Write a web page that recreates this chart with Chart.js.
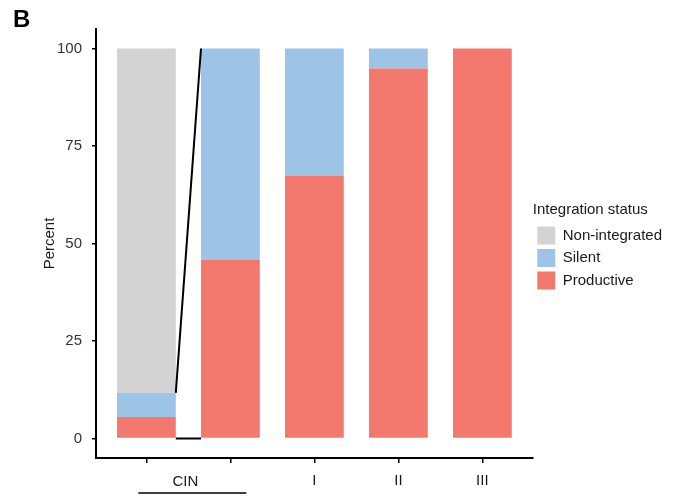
<!DOCTYPE html>
<html>
<head>
<meta charset="utf-8">
<script src="https://cdn.jsdelivr.net/npm/chart.js@4.4.0/dist/chart.umd.min.js"></script>
<style>
  html, body { margin: 0; padding: 0; background: #fff; }
</style>
</head>
<body>
<canvas id="chart" width="678" height="496"></canvas>
<script>
// chart values
const categories = ['CIN (all)', 'CIN (integrated)', 'I', 'II', 'III'];
const tickLabels = ['', '', 'I', 'II', 'III'];
const groupLabel = 'CIN';
const productive = [5.5, 45.9, 67.4, 94.9, 100];
const silent = [6.2, 54.1, 32.6, 5.1, 0];
const nonIntegrated = [88.3, 0, 0, 0, 0];
const yTicks = [0, 25, 50, 75, 100];
const panelLetter = 'B';

Chart.defaults.font.family = '"Liberation Sans", Arial, sans-serif';
Chart.defaults.color = '#4d4d4d';

function toPoints(arr){
    return arr.map((v, i) => ({ x: i, y: v }));
}

// zoom connector, CIN group label and panel letter
const extras = {
    id: 'extras',
    afterDatasetsDraw(chart){
        const ctx = chart.ctx;
        const y = chart.scales.y;
        const b0 = chart.getDatasetMeta(0).data[0];
        const b1 = chart.getDatasetMeta(0).data[1];
        const r0 = b0.x + b0.width / 2;
        const l1 = b1.x - b1.width / 2;
        ctx.save();
        ctx.strokeStyle = '#000';
        ctx.lineWidth = 2;
        ctx.beginPath();
        ctx.moveTo(r0, y.getPixelForValue(productive[0] + silent[0]));
        ctx.lineTo(l1, y.getPixelForValue(100));
        ctx.moveTo(r0, y.getPixelForValue(0));
        ctx.lineTo(l1, y.getPixelForValue(0));
        ctx.stroke();
        ctx.restore();
    },
    afterDraw(chart){
        const ctx = chart.ctx;
        const x = chart.scales.x;
        const mid = (x.getPixelForValue(0) + x.getPixelForValue(1)) / 2;
        ctx.save();
        ctx.fillStyle = '#1a1a1a';
        ctx.font = '15px "Liberation Sans", Arial, sans-serif';
        ctx.textAlign = 'center';
        ctx.textBaseline = 'middle';
        ctx.fillText(groupLabel, mid - 3, 482);
        ctx.strokeStyle = '#000';
        ctx.lineWidth = 1.5;
        ctx.beginPath();
        ctx.moveTo(mid - 50, 493);
        ctx.lineTo(mid + 58, 493);
        ctx.stroke();
        ctx.font = 'bold 24px "Liberation Sans", Arial, sans-serif';
        ctx.textAlign = 'left';
        ctx.textBaseline = 'alphabetic';
        ctx.fillStyle = '#000';
        ctx.fillText(panelLetter, 13, 27);
        ctx.restore();
    }
};

new Chart(document.getElementById('chart'), {
    type: 'bar',
    data: {
        datasets: [
            { label: 'Productive', data: toPoints(productive), backgroundColor: '#f3796e' },
            { label: 'Silent', data: toPoints(silent), backgroundColor: '#9dc3e6' },
            { label: 'Non-integrated', data: toPoints(nonIntegrated), backgroundColor: '#d3d3d3' }
        ]
    },
    options: {
        responsive: false,
        animation: false,
        barPercentage: 0.7,
        categoryPercentage: 1.0,
        layout: { padding: { top: 29, right: 6, bottom: 0, left: 0 } },
        plugins: {
            tooltip: { enabled: false },
            legend: {
                position: 'right',
                align: 'start',
                reverse: true,
                title: {
                    display: true,
                    text: 'Integration status',
                    position: 'start',
                    color: '#1a1a1a',
                    font: { size: 15 },
                    padding: { top: 173, bottom: 2 }
                },
                labels: {
                    boxWidth: 18,
                    boxHeight: 18,
                    padding: 4.5,
                    color: '#1a1a1a',
                    font: { size: 15 }
                }
            }
        },
        scales: {
            x: {
                type: 'linear',
                min: -0.6,
                max: 4.6,
                offset: false,
                stacked: true,
                afterBuildTicks: scale => { scale.ticks = categories.map((c, i) => ({ value: i })); },
                afterFit: scale => { scale.height = 38; },
                ticks: {
                    callback: v => tickLabels[v],
                    color: '#1a1a1a',
                    font: { size: 15 },
                    padding: 9,
                    maxRotation: 0
                },
                grid: { offset: false, drawOnChartArea: false, tickLength: 5, color: '#000', lineWidth: 1.5 },
                border: { color: '#000', width: 2 }
            },
            y: {
                min: -5,
                max: 105,
                stacked: true,
                afterBuildTicks: scale => { scale.ticks = yTicks.map(v => ({ value: v })); },
                afterFit: scale => { scale.width = 96; },
                ticks: { color: '#333', font: { size: 15 }, padding: 10 },
                grid: { drawOnChartArea: false, tickLength: 4, color: '#000', lineWidth: 1.5 },
                border: { color: '#000', width: 2 },
                title: {
                    display: true,
                    text: 'Percent',
                    color: '#1a1a1a',
                    font: { size: 15 },
                    padding: { top: 41, bottom: 0 }
                }
            }
        }
    },
    plugins: [extras]
});
</script>
</body>
</html>
